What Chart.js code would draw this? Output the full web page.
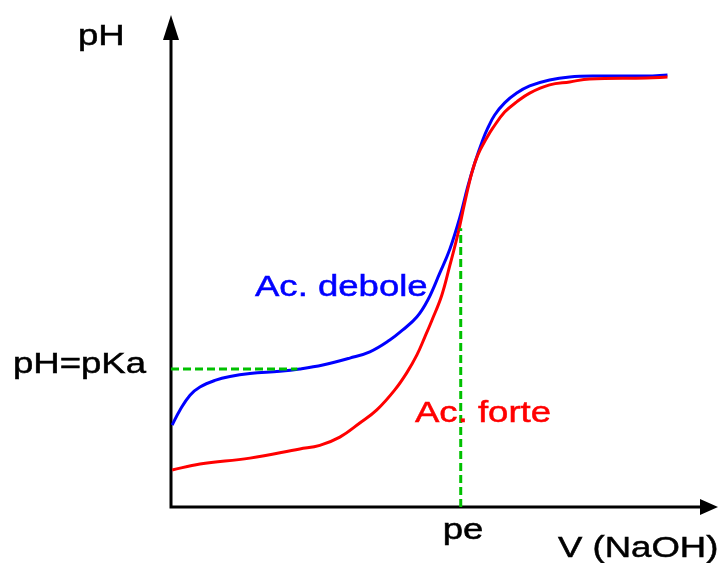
<!DOCTYPE html>
<html>
<head>
<meta charset="utf-8">
<script src="https://cdn.jsdelivr.net/npm/chart.js@4/dist/chart.umd.min.js"></script>
<style>
  html, body { margin: 0; padding: 0; background: #fff; }
  #wrap { width: 718px; height: 563px; }
</style>
</head>
<body>
<div id="wrap"><canvas id="curve"></canvas></div>
<script>
// titration curves: volume NaOH (mL) vs pH
const weakVol = [0.1, 0.78, 1.64, 2.5, 3.79, 5.09, 6.81, 9.4, 11.12, 13.1, 15.43, 17.16, 18.88, 20.0, 21.21, 22.16, 23.19, 24.05, 24.91, 25.6, 26.21, 26.9, 27.33, 27.93, 28.79, 29.83, 30.95, 32.67, 34.4, 36.72, 41.03, 42.84];
const weakPH  = [2.5, 2.96, 3.41, 3.66, 3.86, 3.98, 4.07, 4.14, 4.21, 4.33, 4.54, 4.73, 5.09, 5.4, 5.79, 6.31, 7.13, 7.85, 8.81, 9.76, 10.49, 11.19, 11.55, 11.95, 12.32, 12.62, 12.84, 13.02, 13.11, 13.14, 13.14, 13.17];

const strongVol = [0.1, 2.5, 6.81, 11.12, 12.84, 14.57, 16.29, 17.76, 19.31, 20.34, 21.21, 21.9, 22.5, 23.36, 24.05, 24.74, 25.34, 25.95, 26.47, 27.24, 27.76, 28.79, 29.83, 30.95, 32.67, 34.4, 36.12, 41.03, 42.84];
const strongPH  = [1.13, 1.31, 1.49, 1.77, 1.88, 2.13, 2.56, 2.96, 3.57, 4.09, 4.63, 5.18, 5.68, 6.45, 7.35, 8.3, 9.27, 10.18, 10.73, 11.25, 11.55, 12.04, 12.35, 12.62, 12.87, 12.96, 13.05, 13.08, 13.11];

const pKa = 4.21;        // half-equivalence pH
const peVol = 25;        // equivalence point volume
const pePH = 8.5;        // where the curves cross at pe
const pKaLineEnd = 10.9; // dashed guide stops at the blue curve

const toPoints = (xs, ys) => xs.map((x, i) => ({ x: x, y: ys[i] }));

// axes with arrowheads
const arrowAxes = {
    id: 'arrowAxes',
    beforeDatasetsDraw(chart) {
        const { ctx, chartArea: a } = chart;
        ctx.save();
        ctx.strokeStyle = '#000';
        ctx.fillStyle = '#000';
        ctx.lineWidth = 3;
        ctx.beginPath();
        ctx.moveTo(a.left, a.top + 20);
        ctx.lineTo(a.left, a.bottom);
        ctx.lineTo(a.right - 15, a.bottom);
        ctx.stroke();
        // y arrow
        ctx.beginPath();
        ctx.moveTo(a.left, a.top);
        ctx.lineTo(a.left - 8, a.top + 25);
        ctx.lineTo(a.left + 8, a.top + 25);
        ctx.closePath();
        ctx.fill();
        // x arrow
        ctx.beginPath();
        ctx.moveTo(a.right, a.bottom);
        ctx.lineTo(a.right - 18, a.bottom - 8);
        ctx.lineTo(a.right - 18, a.bottom + 8);
        ctx.closePath();
        ctx.fill();
        ctx.restore();
    }
};

// labels, drawn a bit stretched like the original figure
const labels = {
    id: 'labels',
    afterDatasetsDraw(chart) {
        const { ctx } = chart;
        const xs = chart.scales.x, ys = chart.scales.y;
        const put = (txt, x, y, color) => {
            ctx.save();
            ctx.translate(x, y);
            ctx.scale(1.26, 1);
            ctx.fillStyle = color;
            ctx.strokeStyle = color;
            ctx.lineWidth = 0.5;
            ctx.font = '29px "Liberation Sans", Arial, sans-serif';
            ctx.textBaseline = 'alphabetic';
            ctx.fillText(txt, 0, 0);
            ctx.strokeText(txt, 0, 0);
            ctx.restore();
        };
        put('pH', 78, 45, '#000');
        put('pH=pKa', 13, ys.getPixelForValue(pKa) + 4, '#000');
        put('pe', xs.getPixelForValue(peVol) - 18, 539, '#000');
        put('V (NaOH)', 558, 557, '#000');
        put('Ac. debole', 255, 296, '#0000ff');
        put('Ac. forte', 415, 422, '#ff0000');
    }
};

new Chart(document.getElementById('curve'), {
    type: 'line',
    data: {
        datasets: [
            {
                label: 'pKa',
                data: [{ x: 0, y: pKa }, { x: pKaLineEnd, y: pKa }],
                borderColor: '#00c000',
                borderWidth: 3,
                borderDash: [8, 4],
            },
            {
                label: 'pe',
                data: [{ x: peVol, y: 0 }, { x: peVol, y: pePH }],
                borderColor: '#00c000',
                borderWidth: 3,
                borderDash: [8, 4],
            },
            {
                label: 'Ac. forte',
                data: toPoints(strongVol, strongPH),
                borderColor: '#ff0000',
                borderWidth: 3,
                tension: 0.4,
            },
            {
                label: 'Ac. debole',
                data: toPoints(weakVol, weakPH),
                borderColor: '#0000ff',
                borderWidth: 3,
                tension: 0.4,
            },
        ]
    },
    options: {
        responsive: true,
        maintainAspectRatio: false,
        animation: false,
        layout: { padding: { left: 171, right: 0, top: 15, bottom: 56 } },
        elements: { point: { radius: 0 } },
        plugins: { legend: { display: false }, tooltip: { enabled: false } },
        scales: {
            x: { type: 'linear', display: false, min: 0, max: 47.2 },
            y: { type: 'linear', display: false, min: 0, max: 15 }
        }
    },
    plugins: [arrowAxes, labels]
});
</script>
</body>
</html>
